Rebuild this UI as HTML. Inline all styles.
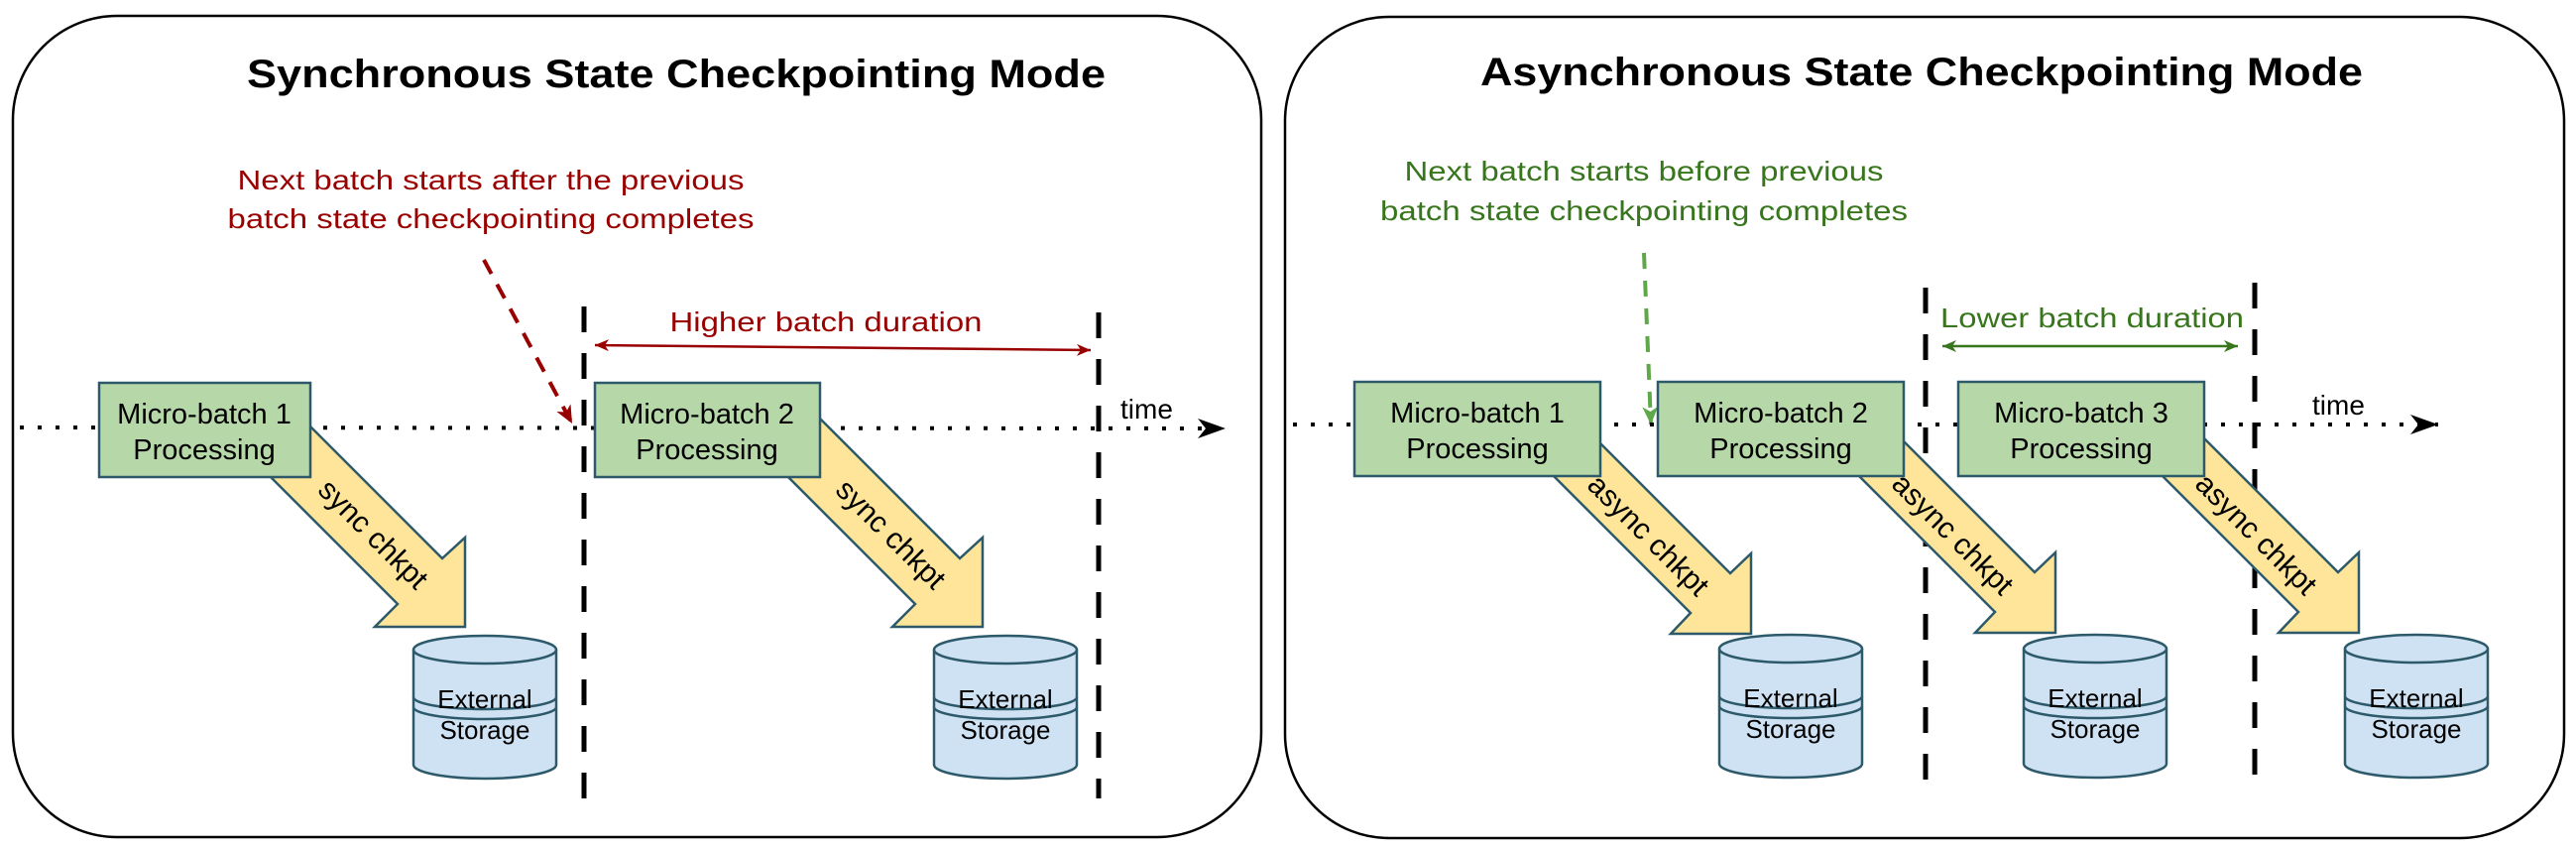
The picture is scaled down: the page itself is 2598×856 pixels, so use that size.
<!DOCTYPE html>
<html><head><meta charset="utf-8"><style>
html,body{margin:0;padding:0;background:#fff;width:2598px;height:856px;overflow:hidden}
svg{display:block}
text{font-family:"Liberation Sans",Arial,sans-serif}
</style></head><body>
<svg width="2598" height="856" viewBox="0 0 2598 856" xmlns="http://www.w3.org/2000/svg">
<defs>
<marker id="tm" markerWidth="30" markerHeight="24" refX="28" refY="10" orient="auto" markerUnits="userSpaceOnUse">
<path d="M0,0 L28,10 L0,20 L8,10 Z" fill="#000"/></marker>
<marker id="rm" markerWidth="20" markerHeight="20" refX="18" refY="8" orient="auto" markerUnits="userSpaceOnUse">
<path d="M0,0 L18,8 L0,16 L5,8 Z" fill="#990000"/></marker>
<marker id="rs" markerWidth="16" markerHeight="14" refX="14" refY="6" orient="auto-start-reverse" markerUnits="userSpaceOnUse">
<path d="M0,0 L14,6 L0,12 L4,6 Z" fill="#990000"/></marker>
<marker id="gm" markerWidth="20" markerHeight="20" refX="18" refY="8" orient="auto" markerUnits="userSpaceOnUse">
<path d="M0,0 L18,8 L0,16 L5,8 Z" fill="#5fa84a"/></marker>
<marker id="gs" markerWidth="16" markerHeight="14" refX="14" refY="6" orient="auto-start-reverse" markerUnits="userSpaceOnUse">
<path d="M0,0 L14,6 L0,12 L4,6 Z" fill="#38761d"/></marker>
<g id="cyl">
<path d="M0,14 A72,14 0 0 1 144,14 V130 A72,14 0 0 1 0,130 Z" fill="#cfe2f3" stroke="#2d5a6b" stroke-width="2.5"/>
<path d="M0,14 A72,14 0 0 0 144,14" fill="none" stroke="#2d5a6b" stroke-width="2.5"/>
<path d="M0,62 A72,12 0 0 0 144,62" fill="none" stroke="#2d5a6b" stroke-width="2.5"/>
<path d="M0,72 A72,12 0 0 0 144,72" fill="none" stroke="#2d5a6b" stroke-width="2.5"/>
</g>
<path id="sarr" d="M-218,-173 L-68,-23 L-91,0 L0,0 L0,-90 L-23,-69 L-173,-219 Z" fill="#ffe599" stroke="#2d5a6b" stroke-width="2.5"/>
<path id="aarr" d="M-211,-171 L-61,-21 L-81,0 L0,0 L0,-81 L-21,-61 L-171,-211 Z" fill="#ffe599" stroke="#2d5a6b" stroke-width="2.5"/>
</defs>

<!-- panels -->
<rect x="13" y="16" width="1259" height="828" rx="105" ry="105" fill="#fff" stroke="#000" stroke-width="2.5"/>
<rect x="1296" y="17" width="1290" height="828" rx="105" ry="105" fill="#fff" stroke="#000" stroke-width="2.5"/>

<text x="682" y="88" font-size="40" font-weight="bold" text-anchor="middle" textLength="866" lengthAdjust="spacingAndGlyphs">Synchronous State Checkpointing Mode</text>
<text x="1938" y="86" font-size="40" font-weight="bold" text-anchor="middle" textLength="890" lengthAdjust="spacingAndGlyphs">Asynchronous State Checkpointing Mode</text>

<!-- LEFT -->
<text x="495" y="191" font-size="28" fill="#990000" text-anchor="middle" textLength="511" lengthAdjust="spacingAndGlyphs">Next batch starts after the previous</text>
<text x="495" y="230" font-size="28" fill="#990000" text-anchor="middle" textLength="531" lengthAdjust="spacingAndGlyphs">batch state checkpointing completes</text>
<line x1="488" y1="262" x2="577" y2="427" stroke="#990000" stroke-width="4" stroke-dasharray="16,12" marker-end="url(#rm)"/>

<line x1="20" y1="431" x2="1236" y2="432" stroke="#000" stroke-width="4" stroke-dasharray="4,14" marker-end="url(#tm)"/>
<text x="1130" y="422" font-size="28">time</text>

<line x1="589" y1="309" x2="589" y2="810" stroke="#000" stroke-width="5" stroke-dasharray="26,21"/>
<line x1="1108" y1="315" x2="1108" y2="805" stroke="#000" stroke-width="5" stroke-dasharray="26,21"/>
<text x="833" y="334" font-size="28" fill="#990000" text-anchor="middle" textLength="315" lengthAdjust="spacingAndGlyphs">Higher batch duration</text>
<line x1="600" y1="348" x2="1100" y2="353" stroke="#990000" stroke-width="2.5" marker-start="url(#rs)" marker-end="url(#rs)"/>

<use href="#sarr" transform="translate(469,632)"/>
<use href="#sarr" transform="translate(991,632)"/>
<text transform="translate(375,540) rotate(45)" font-size="30" text-anchor="middle" dominant-baseline="middle">sync chkpt</text>
<text transform="translate(897,540) rotate(45)" font-size="30" text-anchor="middle" dominant-baseline="middle">sync chkpt</text>

<rect x="100" y="386" width="213" height="95" fill="#b6d7a8" stroke="#2d5a6b" stroke-width="2.5"/>
<text x="206" y="427" font-size="29" text-anchor="middle">Micro-batch 1</text>
<text x="206" y="463" font-size="29" text-anchor="middle">Processing</text>
<rect x="600" y="386" width="227" height="95" fill="#b6d7a8" stroke="#2d5a6b" stroke-width="2.5"/>
<text x="713" y="427" font-size="29" text-anchor="middle">Micro-batch 2</text>
<text x="713" y="463" font-size="29" text-anchor="middle">Processing</text>

<use href="#cyl" transform="translate(417,641)"/>
<text x="489" y="714" font-size="26" text-anchor="middle">External</text>
<text x="489" y="745" font-size="26" text-anchor="middle">Storage</text>
<use href="#cyl" transform="translate(942,641)"/>
<text x="1014" y="714" font-size="26" text-anchor="middle">External</text>
<text x="1014" y="745" font-size="26" text-anchor="middle">Storage</text>

<!-- RIGHT -->
<text x="1658" y="182" font-size="28" fill="#38761d" text-anchor="middle" textLength="483" lengthAdjust="spacingAndGlyphs">Next batch starts before previous</text>
<text x="1658" y="222" font-size="28" fill="#38761d" text-anchor="middle" textLength="532" lengthAdjust="spacingAndGlyphs">batch state checkpointing completes</text>
<line x1="1658" y1="255" x2="1665" y2="428" stroke="#5fa84a" stroke-width="4" stroke-dasharray="16,12" marker-end="url(#gm)"/>

<line x1="1304" y1="428" x2="2459" y2="428" stroke="#000" stroke-width="4" stroke-dasharray="4,14" marker-end="url(#tm)"/>
<text x="2332" y="418" font-size="28">time</text>

<line x1="1942" y1="290" x2="1942" y2="795" stroke="#000" stroke-width="5" stroke-dasharray="26,21"/>
<line x1="2274" y1="285" x2="2274" y2="792" stroke="#000" stroke-width="5" stroke-dasharray="26,21"/>
<text x="2110" y="330" font-size="28" fill="#38761d" text-anchor="middle" textLength="306" lengthAdjust="spacingAndGlyphs">Lower batch duration</text>
<line x1="1959" y1="349" x2="2257" y2="349" stroke="#38761d" stroke-width="2.5" marker-start="url(#gs)" marker-end="url(#gs)"/>

<use href="#aarr" transform="translate(1766,639)"/>
<use href="#aarr" transform="translate(2073,638)"/>
<use href="#aarr" transform="translate(2379,638)"/>
<text transform="translate(1661,541) rotate(45)" font-size="30" text-anchor="middle" dominant-baseline="middle">async chkpt</text>
<text transform="translate(1968,540) rotate(45)" font-size="30" text-anchor="middle" dominant-baseline="middle">async chkpt</text>
<text transform="translate(2274,540) rotate(45)" font-size="30" text-anchor="middle" dominant-baseline="middle">async chkpt</text>

<rect x="1366" y="385" width="248" height="95" fill="#b6d7a8" stroke="#2d5a6b" stroke-width="2.5"/>
<text x="1490" y="426" font-size="29" text-anchor="middle">Micro-batch 1</text>
<text x="1490" y="462" font-size="29" text-anchor="middle">Processing</text>
<rect x="1672" y="385" width="248" height="95" fill="#b6d7a8" stroke="#2d5a6b" stroke-width="2.5"/>
<text x="1796" y="426" font-size="29" text-anchor="middle">Micro-batch 2</text>
<text x="1796" y="462" font-size="29" text-anchor="middle">Processing</text>
<rect x="1975" y="385" width="248" height="95" fill="#b6d7a8" stroke="#2d5a6b" stroke-width="2.5"/>
<text x="2099" y="426" font-size="29" text-anchor="middle">Micro-batch 3</text>
<text x="2099" y="462" font-size="29" text-anchor="middle">Processing</text>

<use href="#cyl" transform="translate(1734,640)"/>
<text x="1806" y="713" font-size="26" text-anchor="middle">External</text>
<text x="1806" y="744" font-size="26" text-anchor="middle">Storage</text>
<use href="#cyl" transform="translate(2041,640)"/>
<text x="2113" y="713" font-size="26" text-anchor="middle">External</text>
<text x="2113" y="744" font-size="26" text-anchor="middle">Storage</text>
<use href="#cyl" transform="translate(2365,640)"/>
<text x="2437" y="713" font-size="26" text-anchor="middle">External</text>
<text x="2437" y="744" font-size="26" text-anchor="middle">Storage</text>
</svg>
</body></html>
